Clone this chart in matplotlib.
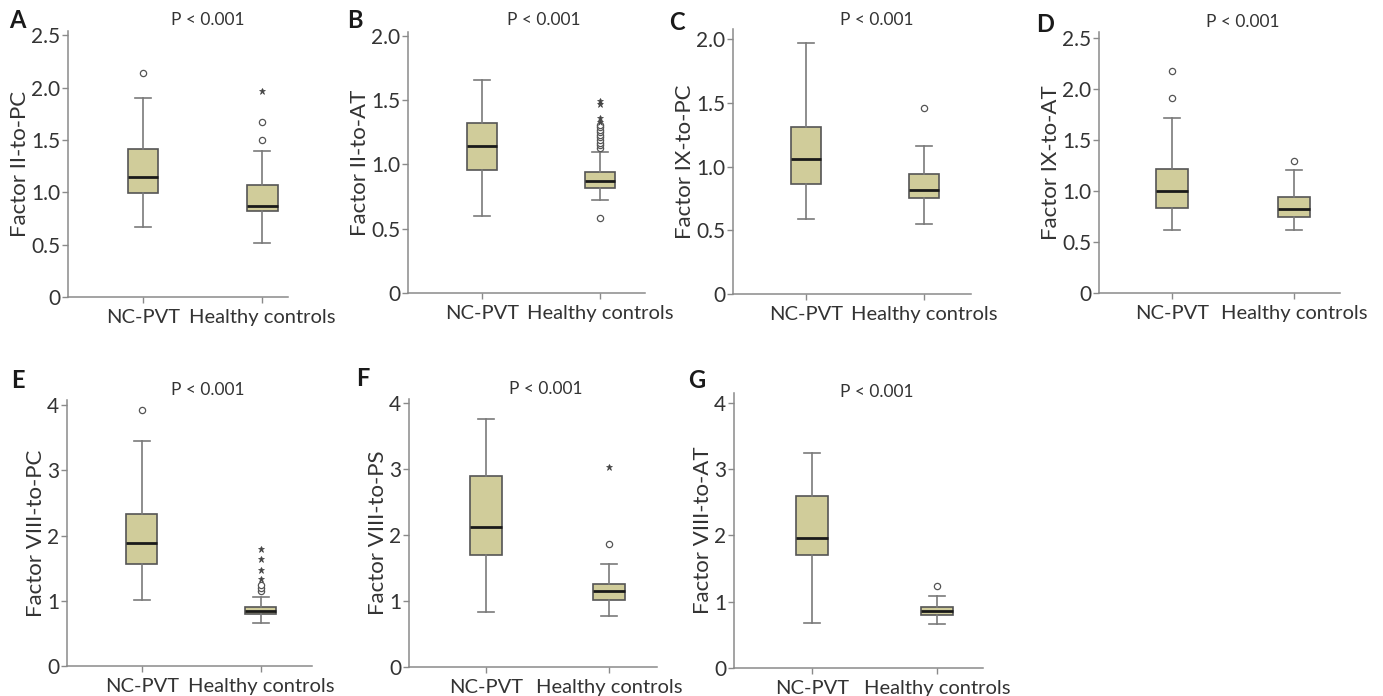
"""
Factor ratio box plots, NC-PVT vs healthy controls (panels A-G).
Saves out.png.
"""

import matplotlib
matplotlib.use("Agg")
import matplotlib.pyplot as plt

W, H = 1383, 696

GROUPS = ["NC-PVT", "Healthy controls"]
P_TEXT = "P < 0.001"

# box stats per group: whislo, q1, med, q3, whishi
A_NC = [0.67, 0.99, 1.15, 1.41, 1.90]
A_HC = [0.52, 0.82, 0.87, 1.07, 1.39]
B_NC = [0.60, 0.96, 1.14, 1.32, 1.66]
B_HC = [0.72, 0.82, 0.87, 0.94, 1.10]
C_NC = [0.59, 0.86, 1.06, 1.31, 1.97]
C_HC = [0.55, 0.755, 0.82, 0.94, 1.165]
D_NC = [0.62, 0.83, 1.00, 1.215, 1.72]
D_HC = [0.62, 0.75, 0.82, 0.94, 1.21]
E_NC = [1.02, 1.56, 1.88, 2.33, 3.45]
E_HC = [0.66, 0.79, 0.85, 0.91, 1.06]
F_NC = [0.84, 1.69, 2.12, 2.90, 3.75]
F_HC = [0.77, 1.02, 1.15, 1.26, 1.565]
G_NC = [0.68, 1.71, 1.965, 2.60, 3.25]
G_HC = [0.66, 0.80, 0.855, 0.92, 1.08]

# outliers (o = mild, * = extreme)
A_NC_O, A_NC_X = [2.14], []
A_HC_O, A_HC_X = [1.50, 1.67], [1.97]
B_NC_O, B_NC_X = [], []
B_HC_O = [0.58, 1.13, 1.15, 1.17, 1.19, 1.21, 1.23, 1.25, 1.27, 1.29, 1.31]
B_HC_X = [1.33, 1.36, 1.47, 1.49]
C_NC_O, C_NC_X = [], []
C_HC_O, C_HC_X = [1.46], []
D_NC_O, D_NC_X = [1.915, 2.18], []
D_HC_O, D_HC_X = [1.29], []
E_NC_O, E_NC_X = [3.92], []
E_HC_O, E_HC_X = [1.155, 1.19, 1.24], [1.33, 1.48, 1.635, 1.79]
F_NC_O, F_NC_X = [], []
F_HC_O, F_HC_X = [1.86], [3.03]
G_NC_O, G_NC_X = [], []
G_HC_O, G_HC_X = [1.23], []

LETTERS = ["A", "B", "C", "D", "E", "F", "G"]
YLABELS = ["Factor II-to-PC", "Factor II-to-AT", "Factor IX-to-PC", "Factor IX-to-AT",
           "Factor VIII-to-PC", "Factor VIII-to-PS", "Factor VIII-to-AT"]
YTICKS_SMALL_25 = [0, 0.5, 1.0, 1.5, 2.0, 2.5]
YTICKS_SMALL_20 = [0, 0.5, 1.0, 1.5, 2.0]
YTICKS_BIG = [0, 1, 2, 3, 4]

PANELS = [
    (A_NC, A_HC, A_NC_O, A_NC_X, A_HC_O, A_HC_X, YTICKS_SMALL_25),
    (B_NC, B_HC, B_NC_O, B_NC_X, B_HC_O, B_HC_X, YTICKS_SMALL_20),
    (C_NC, C_HC, C_NC_O, C_NC_X, C_HC_O, C_HC_X, YTICKS_SMALL_20),
    (D_NC, D_HC, D_NC_O, D_NC_X, D_HC_O, D_HC_X, YTICKS_SMALL_25),
    (E_NC, E_HC, E_NC_O, E_NC_X, E_HC_O, E_HC_X, YTICKS_BIG),
    (F_NC, F_HC, F_NC_O, F_NC_X, F_HC_O, F_HC_X, YTICKS_BIG),
    (G_NC, G_HC, G_NC_O, G_NC_X, G_HC_O, G_HC_X, YTICKS_BIG),
]

# layout in pixels: left, right, top, bottom, ymax, xmin, xmax
LAYOUT = [
    (68, 288, 31, 297, 2.54, 0.370, 2.218),
    (408, 645, 32, 293, 2.03, 0.373, 2.381),
    (733, 971, 29, 294, 2.08, 0.381, 2.398),
    (1099, 1340, 32, 293, 2.56, 0.402, 2.377),
    (67, 312, 400, 666, 4.08, 0.370, 2.429),
    (409, 657, 399, 667, 4.06, 0.374, 2.390),
    (734, 983, 393, 668, 4.15, 0.376, 2.368),
]
# letter (x, y) and p-text (x, y) in pixels
LETTER_POS = [(17, 21), (355, 20), (677, 22), (1045, 24), (18, 380), (363, 378), (697, 380)]
PTEXT_POS = [(208, 20), (544, 20), (877, 20), (1243, 22), (208, 390), (546, 389), (877, 392)]

BOX_FILL = "#d0cc9a"
EDGE = "#555555"
WHISK = "#7a7a7a"
AXIS = "#8a8a8a"
TEXT = "#333333"

plt.rcParams["font.family"] = ["Lato", "DejaVu Sans"]

fig = plt.figure(figsize=(W / 100, H / 100), dpi=100)

for i, (nc, hc, nc_o, nc_x, hc_o, hc_x, yt) in enumerate(PANELS):
    left, right, top, bottom, ymax, xmin, xmax = LAYOUT[i]
    ax = fig.add_axes([left / W, 1 - bottom / H, (right - left) / W, (bottom - top) / H])

    stats = []
    for name, s in zip(GROUPS, [nc, hc]):
        stats.append(dict(label=name, whislo=s[0], q1=s[1], med=s[2], q3=s[3], whishi=s[4], fliers=[]))
    ax.bxp(stats, positions=[1, 2], widths=0.26, patch_artist=True, showfliers=False,
           boxprops=dict(facecolor=BOX_FILL, edgecolor=EDGE, linewidth=1.2),
           medianprops=dict(color="#1a1a1a", linewidth=2.0),
           whiskerprops=dict(color=WHISK, linewidth=1.2),
           capprops=dict(color=WHISK, linewidth=1.2))

    for pos, circ, star in [(1, nc_o, nc_x), (2, hc_o, hc_x)]:
        if circ:
            ax.plot([pos] * len(circ), circ, ls="none", marker="o", ms=4.5,
                    mfc="white", mec="#555555", mew=0.9)
        if star:
            ax.plot([pos] * len(star), star, ls="none", marker="*", ms=5,
                    color="#444444", mew=0.5)

    ax.set_xlim(xmin, xmax)
    ax.set_ylim(0, ymax)
    ax.set_yticks(yt)
    if yt is YTICKS_BIG:
        ax.set_yticklabels([str(v) for v in yt])
    else:
        ax.set_yticklabels(["0"] + [f"{v:.1f}" for v in yt[1:]])
    ax.set_xticks([1, 2])
    ax.set_xticklabels(GROUPS)
    ax.set_ylabel(YLABELS[i], fontsize=16, color=TEXT, labelpad=1)

    for side in ["top", "right"]:
        ax.spines[side].set_visible(False)
    for side in ["left", "bottom"]:
        ax.spines[side].set_color(AXIS)
        ax.spines[side].set_linewidth(1.1)
    ax.tick_params(axis="both", colors=AXIS, length=4, width=1, labelcolor=TEXT, labelsize=15)
    ax.tick_params(axis="x", pad=4.5, labelsize=14.5)
    ax.tick_params(axis="y", pad=1.5)

    lx, ly = LETTER_POS[i]
    fig.text(lx / W, 1 - ly / H, LETTERS[i], fontsize=17, fontweight="bold",
             color="#1a1a1a", ha="center", va="center")
    px, py = PTEXT_POS[i]
    fig.text(px / W, 1 - py / H, P_TEXT, fontsize=12.5, color=TEXT, ha="center", va="center")

fig.savefig("out.png", dpi=100)
